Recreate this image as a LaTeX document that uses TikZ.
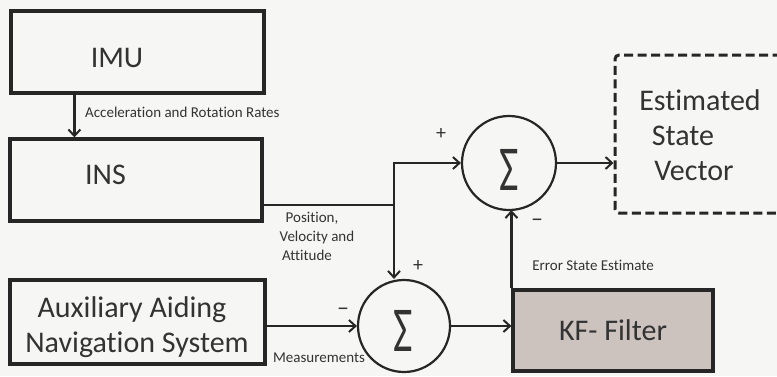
\documentclass[tikz,border=0pt]{standalone}
\usepackage{fontspec}
\setmainfont{Carlito}[Ligatures=NoCommon]
\usetikzlibrary{arrows.meta}

\definecolor{ink}{HTML}{262626}
\definecolor{txt}{HTML}{333333}
\definecolor{paper}{HTML}{F6F6F4}
\definecolor{kffill}{HTML}{CCC3BF}

\begin{document}
\begin{tikzpicture}[x=1pt,y=-1pt,
  blockbox/.style={draw=ink, line width=3.2pt, fill=paper, inner sep=0pt},
  bigtext/.style={font=\fontsize{30}{35}\selectfont, text=txt, inner sep=0pt},
  smalltext/.style={font=\fontsize{15}{19}\selectfont, text=txt, inner sep=0pt},
  signtext/.style={font=\fontsize{20}{24}\selectfont, text=txt, inner sep=0pt},
  dashtext/.style={font=\fontsize{24}{28}\selectfont, text=txt, inner sep=0pt},
  sumnode/.style={draw=ink, line width=2.2pt, circle, fill=paper, inner sep=0pt},
  sigmatext/.style={font=\fontsize{64}{70}\selectfont, text=txt, inner sep=0pt},
  flow/.style={draw=ink, line width=2.2pt,
    -{Straight Barb[length=6.5pt,width=12pt,line width=2pt]}},
  wire/.style={draw=ink, line width=2.2pt},
]
% page
\fill[paper] (0,0) rectangle (777,376);
\useasboundingbox (0,0) rectangle (777,376);
\clip (0,0) rectangle (777,376);

% blocks
\node[blockbox, minimum width=253pt, minimum height=82pt] (imu) at (137.5,52) {};
\node[blockbox, minimum width=252pt, minimum height=82pt] (ins) at (136,180) {};
\node[blockbox, minimum width=255pt, minimum height=84pt] (aux) at (137.5,322) {};
\node[blockbox, fill=kffill, minimum width=200pt, minimum height=81pt,
      font=\fontsize{30}{35}\selectfont, text=txt] (kf) at (613,330.5) {KF- Filter};
\node[draw=ink, line width=3pt, dash pattern=on 9pt off 4.5pt, rounded corners=4pt,
      fill=paper, minimum width=184pt, minimum height=158pt] (est) at (707,134) {};

% summing junctions
\node[sumnode, minimum size=94pt] (upper) at (509,163) {};
\node[sumnode, minimum size=92pt] (lower) at (404,326) {};
\node[sigmatext] (sigA) at (509,170) {\scalebox{0.66}[1]{Σ}};
\node[sigmatext] (sigB) at (403,331) {\scalebox{0.66}[1]{Σ}};

% block texts
\node[bigtext, anchor=base] (imutxt) at (117,67) {IMU};
\node[bigtext, anchor=base] (instxt) at (105.5,184) {INS};
\node[bigtext, anchor=base] (auxtxtA) at (132,317) {Auxiliary Aiding};
\node[bigtext, anchor=base] (auxtxtB) at (137,352) {Navigation System};
\node[bigtext, anchor=base] (esttxtA) at (700,110) {Estimated};
\node[bigtext, anchor=base] (esttxtB) at (683,145) {State};
\node[bigtext, anchor=base] (esttxtC) at (694,180) {Vector};

% connectors
\coordinate (imuout) at ([xshift=65pt]imu.south west);
\draw[flow] (imuout) -- (imuout |- ins.north);

\coordinate (insout) at ([yshift=-25pt]ins.east);
\coordinate (split) at (394,205);
\draw[wire] (insout) -- (split);
\draw[flow] (split) |- (upper.west);
\draw[flow] (split) -- (split |- lower.north);

\draw[flow] (aux.east |- lower.west) -- (lower.west);
\draw[flow] (lower.east) -- (lower.east -| kf.west);
\draw[flow] (kf.north west) -- ([yshift=1pt]kf.north west |- upper.south);
\draw[flow] (upper.east) -- (upper.east -| est.west);

% connector labels
\node[smalltext, anchor=base west] (accl) at (85,117) {Acceleration and Rotation Rates};
\node[smalltext, anchor=base] (posA) at (312,222) {Position,};
\node[smalltext, anchor=base] (posB) at (317,241) {Velocity and};
\node[smalltext, anchor=base] (posC) at (307,260) {Attitude};
\node[smalltext, anchor=base] (meas) at (319,362) {Measurements};
\node[smalltext, anchor=base] (errl) at (593,270) {Error State Estimate};

% signs
\node[signtext] (plusA) at (441,134) {+};
\node[signtext] (plusB) at (418,266) {+};
\node[dashtext] (minusA) at (537,223) {–};
\node[dashtext] (minusB) at (343,312) {–};
\end{tikzpicture}
\end{document}
